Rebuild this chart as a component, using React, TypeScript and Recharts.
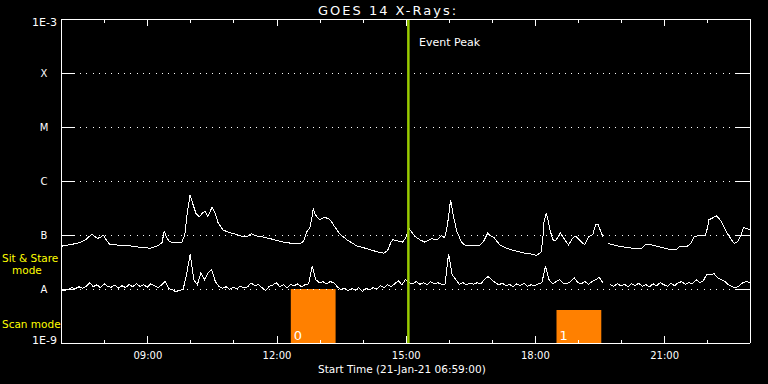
import { ComposedChart, Line, XAxis, YAxis, ReferenceLine, ReferenceArea } from "recharts";

// time axis: hours of day, plot starts 21-Jan-21 06:59:00 and runs 16 h
const START_HOUR = 6 + 59 / 60;
const END_HOUR = START_HOUR + 16;

// long channel (1-8 A), units of 1e-7 W/m2
const longTimes = [
  6.99, 7.19, 7.42, 7.56, 7.7, 7.82, 7.89, 7.96, 8.03, 8.12, 8.35, 8.58, 8.82, 9.05, 9.23, 9.33,
  9.38, 9.44, 9.51, 9.65, 9.79, 9.86, 9.91, 9.98, 10.05, 10.12, 10.19, 10.28, 10.33, 10.39, 10.49,
  10.56, 10.63, 10.74, 10.86, 11.02, 11.18, 11.32, 11.41, 11.5, 11.65, 11.88, 12.11, 12.34, 12.53,
  12.62, 12.69, 12.76, 12.81, 12.84, 12.88, 12.92, 12.99, 13.09, 13.18, 13.25, 13.32, 13.46, 13.62,
  13.85, 14.08, 14.32, 14.48, 14.57, 14.64, 14.69, 14.8, 14.92, 14.99, 15.03, 15.08, 15.2, 15.31,
  15.43, 15.59, 15.73, 15.82, 15.89, 15.94, 15.99, 16.03, 16.08, 16.17, 16.28, 16.38, 16.52, 16.71,
  16.8, 16.89, 16.96, 17.03, 17.17, 17.35, 17.52, 17.75, 17.87, 18.03, 18.13, 18.17, 18.2, 18.25,
  18.28, 18.33, 18.4, 18.47, 18.58, 18.68, 18.77, 18.86, 18.93, 19.03, 19.14, 19.24, 19.33, 19.4,
  19.45, 19.53, 19.57, 19.64, 19.69, 19.79, 19.95, 20.12, 20.3, 20.46, 20.57, 20.69, 20.83, 20.97,
  21.16, 21.27, 21.34, 21.53, 21.62, 21.69, 21.83, 21.95, 21.99, 22.03, 22.13, 22.2, 22.27, 22.34,
  22.46, 22.55, 22.62, 22.69, 22.76, 22.83, 22.9, 22.97,
];
const longFlux: (number | null)[] = [
  0.62, 0.66, 0.72, 0.82, 1.04, 0.87, 0.89, 1.01, 0.82, 0.66, 0.65, 0.63, 0.59, 0.57, 0.63, 0.72,
  1.18, 0.89, 0.75, 0.72, 0.74, 1.01, 2.38, 5.58, 3.64, 2.48, 2.18, 2.59, 2.76, 2.18, 3.27,
  2.59, 1.69, 1.25, 1.13, 1.04, 0.95, 0.95, 1.06, 0.97, 0.93, 0.84, 0.75, 0.7, 0.69,
  0.77, 1.15, 1.34, 2.09, 3.13, 2.48, 2.18, 1.92, 2.09, 2.05, 1.84, 1.49, 1.04, 0.82,
  0.63, 0.56, 0.49, 0.46, 0.52, 0.72, 0.82, 0.78, 0.74, 0.89, 1.1, 1.28, 0.95, 0.82,
  0.74, 0.85, 0.82, 0.97, 0.89, 1.25, 2.38, 4.51, 2.59, 1.2, 0.75, 0.63, 0.65, 0.65,
  0.77, 1.08, 0.97, 0.91, 0.66, 0.56, 0.51, 0.46, 0.45, 0.42, 0.48, 0.82, 1.76, 2.53,
  2.09, 1.34, 0.82, 0.78, 1.1, 0.82, 0.65, 0.87, 0.95, 0.8, 0.66, 0.93, 1.01, 1.55,
  1.59, 1.1, 0.93, null, 0.7, 0.66, 0.62, 0.59, 0.56, 0.56, 0.68, 0.66, 0.62, 0.58,
  0.53, 0.53, 0.61, 0.62, 0.72, 0.93, 0.99, 0.99, 1.31, 1.92, 2.09, 2.28, 2.0, 1.65,
  1.06, 0.82, 0.7, 0.75, 0.93, 1.36, 1.34, 1.25,
];

// short channel (0.5-4 A), 5-minute samples from 06:59, units of 1e-8 W/m2
const shortFlux: (number | null)[] = [
  0.95, 0.93, 0.99, 1.06, 1.02, 1.1, 1.04, 1.12, 1.31, 1.1, 1.2, 1.06, 1.25, 1.12, 1.08, 1.18,
  1.04, 1.15, 1.06, 1.22, 1.1, 1.25, 1.12, 1.2, 1.08, 1.25, 1.15, 1.06, 1.18, 1.38, 1.02, 0.97,
  0.89, 0.95, 0.97, 1.84, 4.5, 1.49, 1.2, 2.0, 1.49, 1.98, 2.28, 1.38, 1.12, 1.04, 1.1, 0.99,
  1.08, 1.02, 1.12, 1.04, 1.1, 1.29, 1.15, 1.2, 1.06, 0.93, 1.12, 1.18, 1.31, 1.1, 1.2, 1.06,
  1.22, 1.15, 1.25, 1.1, 1.2, 1.25, 2.7, 1.49, 1.31, 1.37, 1.25, 1.37, 1.31, 1.1, 0.97, 1.04,
  0.93, 1.02, 0.95, 1.06, 0.91, 1.02, 0.97, 1.06, 1.0, 1.15, 1.06, 1.2, 1.1, 1.25, 1.42, 1.2,
  1.49, 1.31, 1.25, 1.37, 1.22, 1.31, 1.2, 1.37, 1.25, 1.31, 1.22, 1.2, 4.5, 1.84, 1.49, 1.22,
  1.31, 1.2, 1.28, 1.22, 1.31, 1.25, 1.49, 1.71, 1.49, 1.31, 1.2, 1.28, 1.15, 1.22, 1.1, 1.25,
  1.15, 1.28, 1.12, 1.2, 1.15, 1.25, 1.31, 2.62, 1.49, 1.25, 1.37, 1.49, 1.28, 1.25, 1.37, 1.62,
  1.31, 1.25, 1.37, 1.22, 1.37, 1.49, 1.64, 1.31, null, 1.2, 1.12, 1.25, 1.15, 1.22, 1.1, 1.25,
  1.15, 1.28, 1.12, 1.2, 1.1, 1.25, 1.15, 1.31, 1.2, 1.12, 1.28, 1.15, 1.31, 1.37, 1.22, 1.31,
  1.25, 1.49, 1.31, 1.42, 1.9, 1.84, 1.92, 1.62, 1.49, 1.38, 1.2, 1.1, 1.06, 1.15, 1.31, 1.37,
  1.31,
];

const hourTicks = [8, 9, 10, 11, 12, 13, 14, 15, 16, 17, 18, 19, 20, 21, 22];
const labelHours = [9, 12, 15, 18, 21];
const levelValues = [1e-9, 1e-8, 1e-7, 1e-6, 1e-5, 1e-4, 1e-3];
const levelNames = ["1E-9", "A", "B", "C", "M", "X", "1E-3"];
const classLevels = [1e-8, 1e-7, 1e-6, 1e-5, 1e-4];

// observation blocks (orange)
const obsStart = [12.32, 18.49];
const obsEnd = [13.36, 19.53];
const obsTop = [1e-8, 4.1e-9];
const obsNames = ["0", "1"];

const eventPeak = 15.05;

const longData = longTimes.map((t, i) => ({
  t,
  flux: longFlux[i] == null ? null : (longFlux[i] as number) * 1e-7,
}));
const shortData = shortFlux.map((v, i) => ({
  t: START_HOUR + (i * 5) / 60,
  flux: v == null ? null : v * 1e-8,
}));

const FONT = "DejaVu Sans";

const levelIndex = (v: number) => Math.round(Math.log10(v)) + 9;

const BottomTick = (props: any) => {
  const { x, y, payload } = props;
  const h = Math.round(payload.value);
  const major = labelHours.includes(h);
  return (
    <g>
      <line x1={x} x2={x} y1={y} y2={y - (major ? 7 : 3.5)} stroke="#fff" shapeRendering="crispEdges" />
      {major && (
        <text x={x} y={y + 16} textAnchor="middle" fill="#fff" fontSize={10} fontFamily={FONT}>
          {String(h).padStart(2, "0")}:00
        </text>
      )}
    </g>
  );
};

const TopTick = (props: any) => {
  const { x, y, payload } = props;
  const major = labelHours.includes(Math.round(payload.value));
  return <line x1={x} x2={x} y1={y} y2={y + (major ? 7 : 3.5)} stroke="#fff" shapeRendering="crispEdges" />;
};

const LeftTick = (props: any) => {
  const { x, y, payload } = props;
  const i = levelIndex(payload.value);
  const edge = i === 0 || i === levelValues.length - 1;
  return (
    <g>
      {!edge && <line x1={x} x2={x + 14} y1={y} y2={y} stroke="#fff" shapeRendering="crispEdges" />}
      {edge ? (
        <text x={x - 4} y={y + (i === 0 ? -3 : 3)} textAnchor="end" dominantBaseline="central"
          fill="#fff" fontSize={11} fontFamily={FONT}>
          {levelNames[i]}
        </text>
      ) : (
        <text x={x - 17} y={y} textAnchor="middle" dominantBaseline="central"
          fill="#fff" fontSize={10} fontFamily={FONT}>
          {levelNames[i]}
        </text>
      )}
    </g>
  );
};

const RightTick = (props: any) => {
  const { x, y, payload } = props;
  const i = levelIndex(payload.value);
  if (i === 0 || i === levelValues.length - 1) return <g />;
  return <line x1={x - 14} x2={x} y1={y} y2={y} stroke="#fff" shapeRendering="crispEdges" />;
};

const textStyle = (left: number, top: number, size: number, color = "#fff") => ({
  position: "absolute" as const,
  left,
  top,
  fontSize: size,
  lineHeight: `${size}px`,
  color,
  fontFamily: FONT,
  whiteSpace: "nowrap" as const,
});

const axisStroke = { stroke: "#fff", shapeRendering: "crispEdges" };

export default function App() {
  return (
    <div style={{ position: "absolute", left: 0, top: 0, width: 768, height: 384, background: "#000" }}>
      <ComposedChart width={768} height={384} margin={{ top: 0, right: 0, bottom: 0, left: 0 }}>
        <XAxis
          xAxisId="b"
          dataKey="t"
          type="number"
          domain={[START_HOUR, END_HOUR]}
          allowDataOverflow
          ticks={hourTicks}
          interval={0}
          height={41}
          tickSize={0}
          tickMargin={0}
          tick={<BottomTick />}
          axisLine={axisStroke}
        />
        <XAxis
          xAxisId="t"
          orientation="top"
          dataKey="t"
          type="number"
          domain={[START_HOUR, END_HOUR]}
          allowDataOverflow
          ticks={hourTicks}
          interval={0}
          height={19}
          tickSize={0}
          tickMargin={0}
          tick={<TopTick />}
          axisLine={axisStroke}
        />
        <YAxis
          yAxisId="l"
          type="number"
          scale="log"
          domain={[1e-9, 1e-3]}
          allowDataOverflow
          ticks={levelValues}
          interval={0}
          width={61}
          tickSize={0}
          tickMargin={0}
          tick={<LeftTick />}
          axisLine={axisStroke}
        />
        <YAxis
          yAxisId="r"
          orientation="right"
          type="number"
          scale="log"
          domain={[1e-9, 1e-3]}
          allowDataOverflow
          ticks={levelValues}
          interval={0}
          width={18}
          tickSize={0}
          tickMargin={0}
          tick={<RightTick />}
          axisLine={axisStroke}
        />

        {classLevels.map((v) => (
          <ReferenceLine key={v} xAxisId="b" yAxisId="l" y={v} stroke="#fff" strokeDasharray="1 5.3"
            shapeRendering="crispEdges" />
        ))}

        {obsStart.map((s, i) => (
          <ReferenceArea
            key={i}
            xAxisId="b"
            yAxisId="l"
            x1={s}
            x2={obsEnd[i]}
            y1={1e-9}
            y2={obsTop[i]}
            fill="#ff8000"
            fillOpacity={1}
            stroke="none"
            label={{ value: obsNames[i], position: "insideBottomLeft", fill: "#fff", fontSize: 13, fontFamily: FONT, offset: 3 }}
          />
        ))}

        <Line xAxisId="b" yAxisId="l" data={longData} dataKey="flux" type="linear" stroke="#fff"
          strokeWidth={1} dot={false} isAnimationActive={false} shapeRendering="crispEdges" />
        <Line xAxisId="b" yAxisId="l" data={shortData} dataKey="flux" type="linear" stroke="#fff"
          strokeWidth={1} dot={false} isAnimationActive={false} shapeRendering="crispEdges" />

        <ReferenceLine xAxisId="b" yAxisId="l" x={eventPeak} stroke="#99cc00" strokeWidth={2.5} />
      </ComposedChart>

      <div style={textStyle(318, 4, 13)}>
        <span style={{ letterSpacing: 2 }}>GOES 14 X-Rays:</span>
      </div>
      <div style={textStyle(419, 37, 11)}>Event Peak</div>
      <div style={textStyle(318, 364, 10.5)}>Start Time (21-Jan-21 06:59:00)</div>
      <div style={textStyle(2, 253, 10.5, "#ffff00")}>Sit &amp; Stare</div>
      <div style={textStyle(12, 265, 10.5, "#ffff00")}>mode</div>
      <div style={textStyle(2, 319, 10.5, "#ffff00")}>Scan mode</div>
    </div>
  );
}
